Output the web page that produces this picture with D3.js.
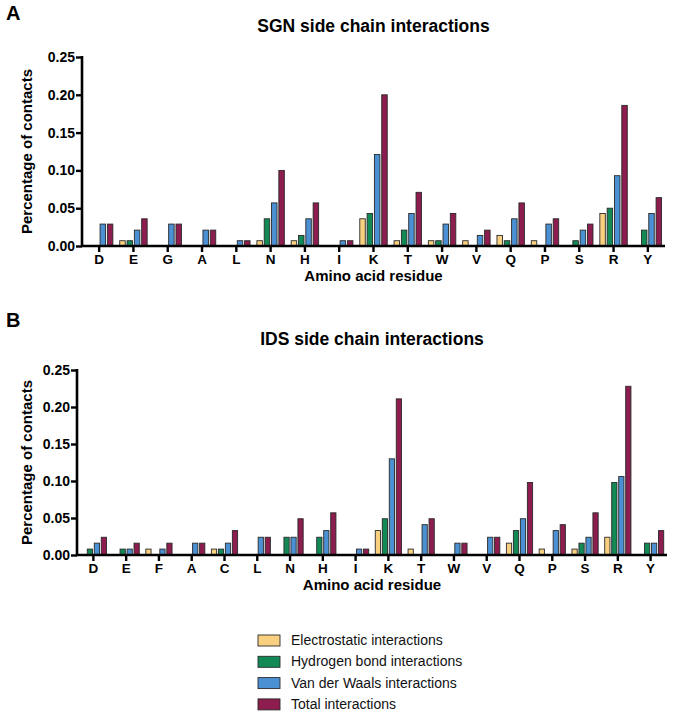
<!DOCTYPE html>
<html>
<head>
<meta charset="utf-8">
<script src="https://cdn.jsdelivr.net/npm/d3@7"></script>
<style>
  html, body { margin: 0; padding: 0; background: #fff; }
  svg text { font-family: "Liberation Sans", Arial, Helvetica, sans-serif; }
</style>
</head>
<body>
<svg id="chart" width="673" height="716"></svg>
<script>
// ---------- Data ----------
const seriesNames = ["Electrostatic interactions", "Hydrogen bond interactions", "Van der Waals interactions", "Total interactions"];
const seriesColors = ["#F9D07F", "#138A56", "#4A90D2", "#8C1D4E"];
const yTicks = [0, 0.05, 0.10, 0.15, 0.20, 0.25];

// Panel A: SGN
const categoriesA = ["D","E","G","A","L","N","H","I","K","T","W","V","Q","P","S","R","Y"];
const electroA = [0, 0.007, 0, 0, 0, 0.007, 0.007, 0, 0.036, 0.007, 0.007, 0.007, 0.014, 0.007, 0, 0.043, 0];
const hbondA   = [0, 0.007, 0, 0, 0, 0.036, 0.014, 0, 0.043, 0.021, 0.007, 0, 0.007, 0, 0.007, 0.050, 0.021];
const vdwA     = [0.029, 0.021, 0.029, 0.021, 0.007, 0.057, 0.036, 0.007, 0.121, 0.043, 0.029, 0.014, 0.036, 0.029, 0.021, 0.093, 0.043];
const totalA   = [0.029, 0.036, 0.029, 0.021, 0.007, 0.100, 0.057, 0.007, 0.200, 0.071, 0.043, 0.021, 0.057, 0.036, 0.029, 0.186, 0.064];

// Panel B: IDS
const categoriesB = ["D","E","F","A","C","L","N","H","I","K","T","W","V","Q","P","S","R","Y"];
const electroB = [0, 0, 0.008, 0, 0.008, 0, 0, 0, 0, 0.033, 0.008, 0, 0, 0.016, 0.008, 0.008, 0.024, 0];
const hbondB   = [0.008, 0.008, 0, 0, 0.008, 0, 0.024, 0.024, 0, 0.049, 0, 0, 0, 0.033, 0, 0.016, 0.098, 0.016];
const vdwB     = [0.016, 0.008, 0.008, 0.016, 0.016, 0.024, 0.024, 0.033, 0.008, 0.130, 0.041, 0.016, 0.024, 0.049, 0.033, 0.024, 0.106, 0.016];
const totalB   = [0.024, 0.016, 0.016, 0.016, 0.033, 0.024, 0.049, 0.057, 0.008, 0.211, 0.049, 0.016, 0.024, 0.098, 0.041, 0.057, 0.228, 0.033];

// ---------- Drawing ----------
const svg = d3.select("#chart");

function panel(opts) {
  const { letter, title, cats, series, left, right, top, bottom, letterY, titleY, xTitleY } = opts;
  const g = svg.append("g");
  const x0 = d3.scaleBand().domain(cats).range([left, right]).paddingInner(0.2).paddingOuter(0.1);
  const x1 = d3.scaleBand().domain(d3.range(4)).range([0, x0.bandwidth()]).paddingInner(0.25);
  const y = d3.scaleLinear().domain([0, 0.25]).range([bottom, top]);

  // bars
  cats.forEach((c, i) => {
    series.forEach((s, k) => {
      const v = s[i];
      if (v <= 0) return;
      g.append("rect")
        .attr("x", x0(c) + x1(k))
        .attr("y", y(v))
        .attr("width", x1.bandwidth())
        .attr("height", y(0) - y(v))
        .attr("fill", seriesColors[k])
        .attr("stroke", "#2a2a2a")
        .attr("stroke-width", 0.9);
    });
  });

  // x axis
  const xAxis = g.append("g").attr("transform", `translate(0,${bottom})`)
    .call(d3.axisBottom(x0).tickSize(6).tickPadding(2).tickSizeOuter(0));
  xAxis.select(".domain").attr("stroke", "#000").attr("stroke-width", 2.6)
    .attr("d", `M${left - 1},0H${right}`);
  xAxis.selectAll(".tick line").attr("stroke", "#000").attr("stroke-width", 2.4);
  xAxis.selectAll(".tick text").attr("fill", "#000").style("font-size", "13.5px").style("font-weight", "bold");

  // y axis
  const yAxis = g.append("g").attr("transform", `translate(${left},0)`)
    .call(d3.axisLeft(y).tickValues(yTicks).tickFormat(d3.format(".2f")).tickSize(6).tickPadding(1).tickSizeOuter(0));
  yAxis.select(".domain").attr("stroke", "#000").attr("stroke-width", 2.6)
    .attr("d", `M0,${bottom + 1}V${top - 1}`);
  yAxis.selectAll(".tick line").attr("stroke", "#000").attr("stroke-width", 2.4);
  yAxis.selectAll(".tick text").attr("fill", "#000").style("font-size", "14px").style("font-weight", "bold");

  // y title
  g.append("text")
    .attr("transform", `translate(32,${(top + bottom) / 2}) rotate(-90)`)
    .attr("text-anchor", "middle")
    .style("font-size", "15px").style("font-weight", "bold")
    .text("Percentage of contacts");

  // x title
  g.append("text")
    .attr("x", (left + right) / 2).attr("y", xTitleY)
    .attr("text-anchor", "middle")
    .style("font-size", "15px").style("font-weight", "bold")
    .text("Amino acid residue");

  // panel title
  g.append("text")
    .attr("x", (left + right) / 2).attr("y", titleY)
    .attr("text-anchor", "middle")
    .style("font-size", "17.5px").style("font-weight", "bold")
    .text(title);

  // panel letter
  g.append("text")
    .attr("x", 6).attr("y", letterY)
    .style("font-family", "'Liberation Sans Narrow', 'Arial Narrow', 'Liberation Sans', sans-serif")
    .style("font-size", "20px").style("font-weight", "bold")
    .text(letter);
}

panel({ letter: "A", title: "SGN side chain interactions", cats: categoriesA,
  series: [electroA, hbondA, vdwA, totalA],
  left: 82, right: 665, top: 57, bottom: 246, letterY: 20, titleY: 32, xTitleY: 281 });

panel({ letter: "B", title: "IDS side chain interactions", cats: categoriesB,
  series: [electroB, hbondB, vdwB, totalB],
  left: 77, right: 667, top: 370, bottom: 555, letterY: 327, titleY: 345, xTitleY: 590 });

// legend
const legend = svg.append("g").attr("transform", "translate(258,635)");
seriesNames.forEach((name, k) => {
  const row = legend.append("g").attr("transform", `translate(0,${k * 21.3})`);
  row.append("rect").attr("width", 22).attr("height", 11)
    .attr("fill", seriesColors[k]).attr("stroke", "#2a2a2a").attr("stroke-width", 0.9);
  row.append("text").attr("x", 33).attr("y", 10)
    .style("font-size", "14px").attr("fill", "#111")
    .text(name);
});
</script>
</body>
</html>
